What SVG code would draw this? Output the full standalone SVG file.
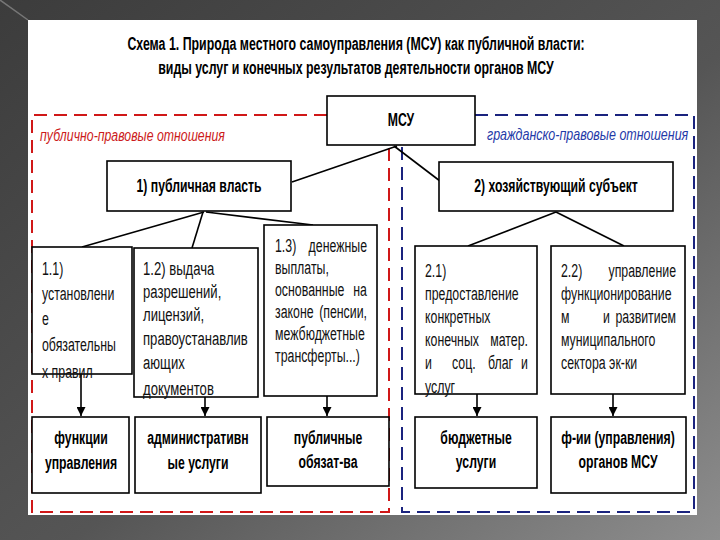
<svg xmlns="http://www.w3.org/2000/svg" width="720" height="540" viewBox="0 0 720 540">
<defs>
<linearGradient id="bg" x1="0" y1="0" x2="1" y2="1">
<stop offset="0" stop-color="#3c3c3c"/><stop offset="0.55" stop-color="#555"/><stop offset="1" stop-color="#8e8e8e"/>
</linearGradient>
<marker id="ah" viewBox="0 0 10 10" refX="10" refY="5" markerWidth="10" markerHeight="9" markerUnits="userSpaceOnUse" orient="auto"><path d="M0,0 L10,5 L0,10 z" fill="#000"/></marker>
<style>
.t{font-family:"Liberation Sans",Arial,sans-serif;font-size:19px;fill:#111}
.b{font-weight:bold;fill:#000;font-size:18px}
.e{text-anchor:end}
.m{text-anchor:middle}
.lab{font-family:"Liberation Sans",Arial,sans-serif;font-size:16px;font-style:italic}
.box{fill:#fff;stroke:#000;stroke-width:1.6}
.con{stroke:#000;stroke-width:1.6;fill:none}
.dash{fill:none;stroke-width:2;stroke-dasharray:13 7}
</style>
</defs>
<rect width="720" height="540" fill="url(#bg)"/>
<line x1="0" y1="0" x2="28" y2="20" stroke="#777" stroke-width="1.5"/>
<rect x="28" y="20" width="669" height="495" fill="#fff"/>

<g id="title">
<text class="t b m" font-size="19" transform="translate(356,50) scale(0.687,1)">Схема 1. Природа местного самоуправления (МСУ) как публичной власти:</text>
<text class="t b m" font-size="19" transform="translate(356,74) scale(0.687,1)">виды услуг и конечных результатов деятельности органов МСУ</text>
</g>

<g id="region-public">
<path class="dash" stroke="#d01818" d="M327,115 H32 V512 H389 V147"/>
<text class="lab" fill="#cc1a1a" transform="translate(40,141) scale(0.77,1)">публично-правовые отношения</text>
</g>
<g id="region-civil">
<path class="dash" stroke="#1a237e" d="M475,115 H694 V512 H402 V147"/>
<text class="lab" fill="#1f3aa8" transform="translate(487,140) scale(0.78,1)">гражданско-правовые отношения</text>
</g>

<g id="connectors">
<line class="con" x1="397" y1="146" x2="292" y2="182"/>
<line class="con" x1="394" y1="146" x2="440" y2="181"/>
<line class="con" x1="204" y1="212" x2="82" y2="247" stroke-width="2"/>
<line class="con" x1="203" y1="212" x2="192" y2="248" stroke-width="1"/>
<line class="con" x1="206" y1="212" x2="313" y2="225" stroke-width="2"/>
<line class="con" x1="556" y1="212" x2="468" y2="246"/>
<line class="con" x1="556" y1="212" x2="624" y2="246"/>
<line class="con" x1="81" y1="374" x2="81" y2="416" marker-end="url(#ah)"/>
<line class="con" x1="205" y1="397" x2="205" y2="416" marker-end="url(#ah)"/>
<line class="con" x1="327" y1="396" x2="327" y2="416" marker-end="url(#ah)"/>
<line class="con" x1="477" y1="394" x2="477" y2="416" marker-end="url(#ah)"/>
<line class="con" x1="613" y1="394" x2="613" y2="416" marker-end="url(#ah)"/>
</g>

<g id="msu">
<rect class="box" x="327" y="96" width="148" height="49" stroke-width="2"/>
<text class="t b m" transform="translate(401,126) scale(0.68,1)">МСУ</text>
</g>

<g id="public-power">
<rect class="box" x="107" y="161" width="184" height="50" stroke="#b03030" stroke-width="1.3"/>
<text class="t b m" transform="translate(199,192) scale(0.68,1)">1) публичная власть</text>
</g>

<g id="business-entity">
<rect class="box" x="439" y="162" width="234" height="49" stroke="#1c2a7c" stroke-width="1.5"/>
<text class="t b m" transform="translate(556,192) scale(0.68,1)">2) хозяйствующий субъект</text>
</g>

<g id="n11">
<rect class="box" x="32" y="247" width="100" height="127"/>
<text class="t" transform="translate(42,275) scale(0.65,1)">1.1)</text>
<text class="t" transform="translate(42,300) scale(0.65,1)">установлени</text>
<text class="t" transform="translate(42,325) scale(0.65,1)">е</text>
<text class="t" transform="translate(42,351) scale(0.65,1)">обязательны</text>
<text class="t" transform="translate(42,378) scale(0.65,1)">х правил</text>
</g>

<g id="n12">
<rect class="box" x="134" y="248" width="124" height="149"/>
<text class="t" transform="translate(143,275) scale(0.69,1)">1.2) выдача</text>
<text class="t" transform="translate(143,298) scale(0.69,1)">разрешений,</text>
<text class="t" transform="translate(143,321) scale(0.69,1)">лицензий,</text>
<text class="t" transform="translate(143,345) scale(0.69,1)">правоустанавлив</text>
<text class="t" transform="translate(143,369) scale(0.69,1)">ающих</text>
<text class="t" transform="translate(143,395) scale(0.69,1)">документов</text>
</g>

<g id="n13">
<rect class="box" x="264" y="225" width="113" height="171"/>
<text class="t" transform="translate(275,252) scale(0.65,1)">1.3)</text>
<text class="t e" transform="translate(367,252) scale(0.65,1)">денежные</text>
<text class="t" transform="translate(275,274) scale(0.65,1)">выплаты,</text>
<text class="t" transform="translate(275,296) scale(0.65,1)">основанные</text>
<text class="t e" transform="translate(367,296) scale(0.65,1)">на</text>
<text class="t" transform="translate(275,318) scale(0.65,1)">законе</text>
<text class="t e" transform="translate(367,318) scale(0.65,1)">(пенсии,</text>
<text class="t" transform="translate(275,340) scale(0.65,1)">межбюджетные</text>
<text class="t" transform="translate(275,362) scale(0.65,1)">трансферты...)</text>
</g>

<g id="n21">
<rect class="box" x="415" y="246" width="122" height="148"/>
<text class="t" transform="translate(425,277) scale(0.65,1)">2.1)</text>
<text class="t" transform="translate(425,300) scale(0.65,1)">предоставление</text>
<text class="t" transform="translate(425,323) scale(0.65,1)">конкретных</text>
<text class="t" transform="translate(425,346) scale(0.65,1)">конечных</text>
<text class="t e" transform="translate(528,346) scale(0.65,1)">матер.</text>
<text class="t" transform="translate(425,369) scale(0.65,1)">и</text>
<text class="t" transform="translate(452,369) scale(0.65,1)">соц.</text>
<text class="t" transform="translate(488,369) scale(0.65,1)">благ</text>
<text class="t e" transform="translate(528,369) scale(0.65,1)">и</text>
<text class="t" transform="translate(425,393) scale(0.65,1)">услуг</text>
</g>

<g id="n22">
<rect class="box" x="551" y="246" width="134" height="148"/>
<text class="t" transform="translate(561,277) scale(0.65,1)">2.2)</text>
<text class="t e" transform="translate(676,277) scale(0.65,1)">управление</text>
<text class="t" transform="translate(561,300) scale(0.65,1)">функционирование</text>
<text class="t" transform="translate(561,323) scale(0.65,1)">м</text>
<text class="t" transform="translate(603,323) scale(0.65,1)">и</text>
<text class="t e" transform="translate(676,323) scale(0.65,1)">развитием</text>
<text class="t" transform="translate(561,346) scale(0.65,1)">муниципального</text>
<text class="t" transform="translate(561,369) scale(0.65,1)">сектора эк-ки</text>
</g>

<g id="r-functions">
<rect class="box" x="32" y="417" width="97" height="76" stroke="#e020e0" stroke-width="2"/>
<text class="t b m" transform="translate(81,444) scale(0.68,1)">функции</text>
<text class="t b m" transform="translate(81,469) scale(0.68,1)">управления</text>
</g>
<g id="r-admin">
<rect class="box" x="135" y="417" width="126" height="76" stroke="#e020e0" stroke-width="2"/>
<text class="t b m" transform="translate(198,444) scale(0.68,1)">административн</text>
<text class="t b m" transform="translate(198,469) scale(0.68,1)">ые услуги</text>
</g>
<g id="r-obligations">
<rect class="box" x="267" y="417" width="122" height="69" stroke="#c41a1a" stroke-width="2"/>
<text class="t b m" transform="translate(328,444) scale(0.68,1)">публичные</text>
<text class="t b m" transform="translate(328,468) scale(0.68,1)">обязат-ва</text>
</g>
<g id="r-budget">
<rect class="box" x="415" y="417" width="122" height="71" stroke="#1a2a9a" stroke-width="2"/>
<text class="t b m" transform="translate(476,444) scale(0.68,1)">бюджетные</text>
<text class="t b m" transform="translate(476,468) scale(0.68,1)">услуги</text>
</g>
<g id="r-organs">
<rect class="box" x="551" y="417" width="135" height="76" stroke="#1f7a1f" stroke-width="2"/>
<text class="t b m" transform="translate(618,444) scale(0.68,1)">ф-ии (управления)</text>
<text class="t b m" transform="translate(618,468) scale(0.68,1)">органов МСУ</text>
</g>
</svg>
